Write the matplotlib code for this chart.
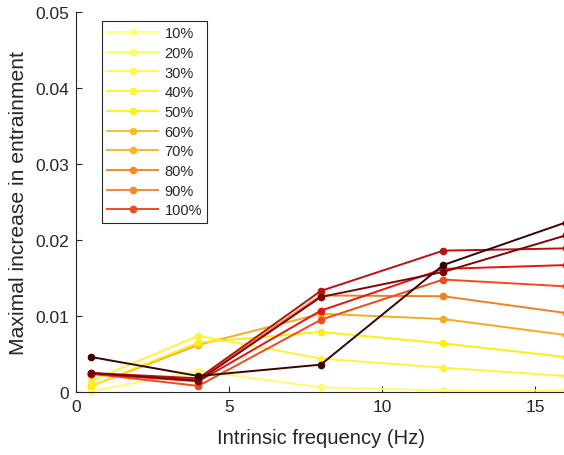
import matplotlib
matplotlib.use("Agg")
import matplotlib.pyplot as plt
from matplotlib.lines import Line2D

plt.rcParams['font.family'] = ['Liberation Sans', 'DejaVu Sans']

# intrinsic frequencies (Hz)
freqs = [0.5, 4, 8, 12, 16]

# one series per curve
pale_yellow = [0.0001, 0.0028, 0.0006, 0.0002, 0.0002]
yellow_a = [0.0015, 0.0074, 0.0044, 0.0032, 0.0021]
yellow_b = [0.0008, 0.0065, 0.0079, 0.0064, 0.0046]
amber = [0.0008, 0.0062, 0.0103, 0.0096, 0.0075]
orange = [0.0024, 0.0017, 0.0127, 0.0126, 0.0104]
red_orange = [0.0024, 0.0008, 0.0095, 0.0148, 0.0139]
red = [0.0024, 0.0014, 0.0107, 0.0162, 0.0167]
dark_red = [0.0025, 0.0018, 0.0133, 0.0186, 0.0189]
darker_red = [0.0025, 0.0015, 0.0125, 0.0158, 0.0206]
darkest = [0.0046, 0.0021, 0.0036, 0.0167, 0.0223]

# drawing order (amber sits under the yellow curves at 0.5 Hz)
series = [amber, pale_yellow, yellow_a, yellow_b, orange,
          red_orange, red, dark_red, darker_red, darkest]
line_colors = ['#f4ab1e', '#fffa70', '#fff23a', '#ffec10', '#f3801f',
               '#f04a1c', '#e41512', '#b81212', '#7c0606', '#3c0202']

legend_labels = ['10%', '20%', '30%', '40%', '50%',
                 '60%', '70%', '80%', '90%', '100%']
legend_colors = ['#ffff80', '#ffff5c', '#fff84c', '#fff23a', '#ffee22',
                 '#f8c02e', '#f8b42c', '#f58a26', '#f5892c', '#f04a1e']

fig = plt.figure(figsize=(5.64, 4.56), dpi=100)
ax = fig.add_axes([76 / 564, 1 - 393 / 456, 489.6 / 564, 380 / 456])

for vals, c in zip(series, line_colors):
    ax.plot(freqs, vals, '-o', color=c, lw=1.4, ms=4.5, mec=c, mfc=c, clip_on=False)

ax.set_xlim(0, 16)
ax.set_ylim(0, 0.05)
ax.set_xticks([0, 5, 10, 15])
ax.set_yticks([0, 0.01, 0.02, 0.03, 0.04, 0.05])
ax.set_yticklabels(['0', '0.01', '0.02', '0.03', '0.04', '0.05'])

for s in ['top', 'right']:
    ax.spines[s].set_visible(False)
for s in ['left', 'bottom']:
    ax.spines[s].set_color('#262626')
    ax.spines[s].set_linewidth(0.8)
ax.tick_params(direction='in', length=4, width=0.8, colors='#262626',
               labelsize=12.5, pad=5)

ax.set_xlabel('Intrinsic frequency (Hz)', fontsize=14.6, color='#262626', labelpad=10)
ax.set_ylabel('Maximal increase in entrainment', fontsize=15.2, color='#262626', labelpad=5)

handles = [Line2D([], [], color=c, lw=1.4, marker='o', ms=4.5) for c in legend_colors]
leg = ax.legend(handles, legend_labels, loc='upper left',
                bbox_to_anchor=(0.053, 0.976), borderaxespad=0,
                fontsize=10.5, handlelength=3.5, labelspacing=0.39,
                handletextpad=0.45, borderpad=0.35, fancybox=False,
                framealpha=1, edgecolor='#262626')
leg.get_frame().set_linewidth(0.8)
for t in leg.get_texts():
    t.set_color('#262626')

fig.savefig('out.png', dpi=100)
